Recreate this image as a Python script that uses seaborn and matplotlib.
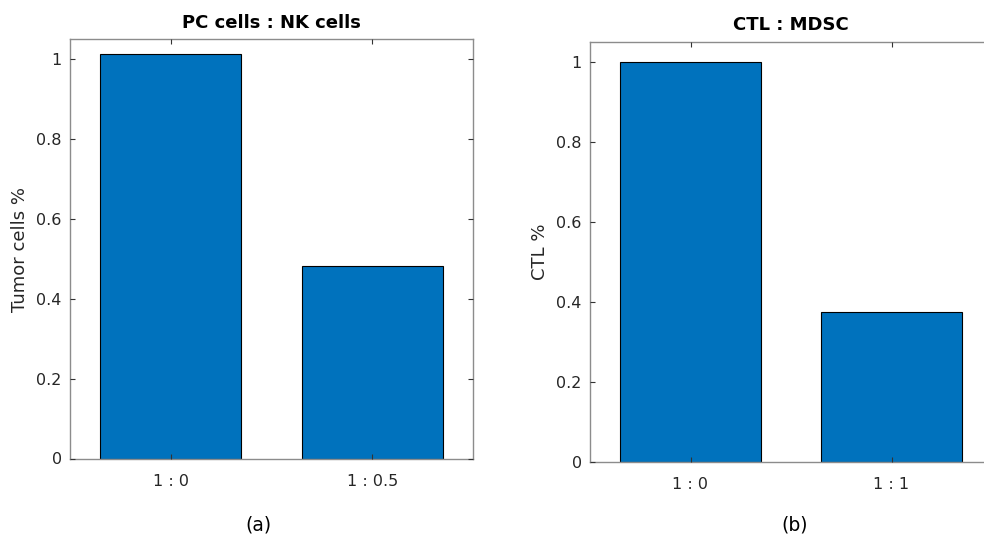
import matplotlib
matplotlib.use("Agg")
import matplotlib.pyplot as plt
import seaborn as sns
import pandas as pd

# Data
left_categories = ["1 : 0", "1 : 0.5"]
left_values = [1.013, 0.483]
right_categories = ["1 : 0", "1 : 1"]
right_values = [1.0, 0.375]

left_title = "PC cells : NK cells"
right_title = "CTL : MDSC"
left_ylabel = "Tumor cells %"
right_ylabel = "CTL %"
yticks = [0, 0.2, 0.4, 0.6, 0.8, 1]
ytick_labels = ["0", "0.2", "0.4", "0.6", "0.8", "1"]

sns.set_theme(style="white")
plt.rcParams["font.family"] = ["DejaVu Sans"]

bar_color = "#0072BD"
spine_color = "#8c8c8c"
text_color = "#262626"

fig = plt.figure(figsize=(9.84, 5.44), dpi=100)
W, H = 984, 544

def make_axes(x0, x1, ytop, ybot):
    return fig.add_axes([x0 / W, (H - ybot) / H, (x1 - x0) / W, (ybot - ytop) / H])

ax1 = make_axes(70, 473, 39.5, 458.5)
ax2 = make_axes(590, 992, 41.5, 461.5)

panels = [
    (ax1, left_categories, left_values, left_title, left_ylabel),
    (ax2, right_categories, right_values, right_title, right_ylabel),
]

for ax, cats, vals, title, ylab in panels:
    df = pd.DataFrame({"cat": cats, "val": vals})
    sns.barplot(data=df, x="cat", y="val", ax=ax, color=bar_color, width=0.7,
                edgecolor="black", linewidth=0.8, saturation=1)
    ax.set_xlim(-0.5, 1.5)
    ax.set_ylim(0, 1.05)
    ax.set_yticks(yticks)
    ax.set_yticklabels(ytick_labels)
    ax.set_xlabel("")
    ax.set_ylabel(ylab, fontsize=13, color=text_color, labelpad=5)
    ax.set_title(title, fontsize=13, fontweight="bold", color="black", pad=8)
    for s in ax.spines.values():
        s.set_visible(True)
        s.set_color(spine_color)
        s.set_linewidth(1.0)
    ax.tick_params(axis="both", which="major", direction="in", length=3.6,
                   width=0.8, color="#333333", labelcolor=text_color,
                   labelsize=11.5, top=True, right=True, bottom=True, left=True)
    ax.tick_params(axis="x", pad=11)
    ax.tick_params(axis="y", pad=6)
    ax.set_facecolor("white")
    ax.set_axisbelow(False)

fig.text(258 / W, 1 - 525 / H, "(a)", ha="center", va="center",
         fontsize=13.5, family="DejaVu Sans", color="black")
fig.text(795 / W, 1 - 525 / H, "(b)", ha="center", va="center",
         fontsize=13.5, family="DejaVu Sans", color="black")

fig.savefig("out.png", dpi=100, facecolor="white")
